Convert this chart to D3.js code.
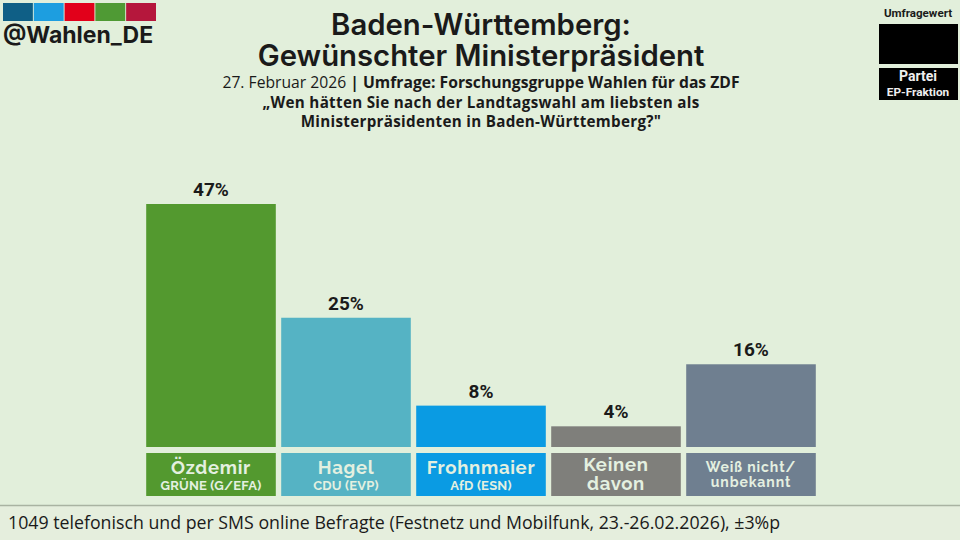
<!DOCTYPE html>
<html>
<head>
<meta charset="utf-8">
<script src="https://d3js.org/d3.v7.min.js"></script>
<style>
  html, body { margin: 0; padding: 0; background: #e2efdb; }
  svg { display: block; }
  text { font-family: "Open Sans", sans-serif; fill: #1a1a1a; }
</style>
</head>
<body>
<svg id="chart" width="960" height="540"></svg>
<script>
var names = ["Özdemir", "Hagel", "Frohnmaier", "Keinen", "Weiß nicht/"];
var names2 = ["", "", "", "davon", "unbekannt"];
var parties = ["GRÜNE (G/EFA)", "CDU (EVP)", "AfD (ESN)", "", ""];
var values = [47, 25, 8, 4, 16];
var barColors = ["#53992f", "#55b3c4", "#0a9be3", "#7f7f7b", "#6f7f90"];
var logoColors = ["#0f5f86", "#1d9ee0", "#e2001a", "#4f9a34", "#b5173c"];
var titleLines = ["Baden-Württemberg:", "Gewünschter Ministerpräsident"];
var questionLines = ["„Wen hätten Sie nach der Landtagswahl am liebsten als", "Ministerpräsidenten in Baden-Württemberg?\""];

var svg = d3.select("#chart");
var headFont = "Raleway, Lato, sans-serif";

var x = d3.scaleBand().domain(d3.range(values.length)).range([143.5, 818.5]).paddingInner(0.04).paddingOuter(0.02);
var y = d3.scaleLinear().domain([0, 47]).range([447, 204]);

// footer
svg.append("rect").attr("x", 0).attr("y", 505).attr("width", 960).attr("height", 35).attr("fill", "#e5eedd");
svg.append("line").attr("x1", 0).attr("x2", 960).attr("y1", 505.5).attr("y2", 505.5).attr("stroke", "#a9b3a2").attr("stroke-width", 1.5);
svg.append("text").attr("x", 8).attr("y", 529).attr("font-size", 17.75).attr("fill", "#222")
  .text("1049 telefonisch und per SMS online Befragte (Festnetz und Mobilfunk, 23.-26.02.2026), ±3%p");

// logo
var logoX = d3.scaleBand().domain(d3.range(logoColors.length)).range([3, 156]).paddingInner(0.03);
svg.selectAll("rect.logo").data(logoColors).enter().append("rect")
  .attr("class", "logo")
  .attr("x", function(d, i) { return logoX(i); })
  .attr("y", 3).attr("width", logoX.bandwidth()).attr("height", 18)
  .attr("fill", function(d) { return d; });
svg.append("text").attr("x", 3).attr("y", 43).attr("font-size", 23).attr("font-weight", 700)
  .style("font-family", "Inter, sans-serif").attr("fill", "#111").text("@Wahlen_DE");

// titles, one text element so the lines can sit tight
var title = svg.append("text")
  .attr("text-anchor", "middle")
  .attr("font-size", 29.3).attr("font-weight", 600)
  .attr("fill", "#111")
  .style("font-family", "Inter, sans-serif");
title.selectAll("tspan").data(titleLines).enter().append("tspan")
  .attr("x", 481)
  .attr("y", function(d, i) { return 35 + i * 31; })
  .text(function(d) { return d; });

var sub = svg.append("text").attr("x", 481).attr("y", 88).attr("text-anchor", "middle").attr("font-size", 15.7).attr("fill", "#222");
sub.append("tspan").text("27. Februar 2026 ");
sub.append("tspan").attr("font-weight", 700).text("| Umfrage: Forschungsgruppe Wahlen für das ZDF");

svg.selectAll("text.question").data(questionLines).enter().append("text")
  .attr("class", "question")
  .attr("x", 481)
  .attr("y", function(d, i) { return 108 + i * 19; })
  .attr("text-anchor", "middle")
  .attr("font-size", 15.2).attr("font-weight", 700).attr("fill", "#222")
  .attr("letter-spacing", 0.3)
  .text(function(d) { return d; });

// legend box
svg.append("text").attr("x", 918).attr("y", 17).attr("text-anchor", "middle").attr("font-size", 11.6).attr("font-weight", 700)
  .style("font-family", "Roboto, sans-serif").text("Umfragewert");
svg.append("rect").attr("x", 879).attr("y", 24).attr("width", 79).attr("height", 40).attr("fill", "#000");
svg.append("rect").attr("x", 879).attr("y", 68).attr("width", 79).attr("height", 32).attr("fill", "#000");
svg.append("text").attr("x", 918).attr("y", 81).attr("text-anchor", "middle").attr("font-size", 14).attr("font-weight", 700)
  .style("font-family", "Roboto, sans-serif").style("fill", "#eee").text("Partei");
svg.append("text").attr("x", 918).attr("y", 96).attr("text-anchor", "middle").attr("font-size", 11.8).attr("font-weight", 700)
  .style("font-family", "Roboto, sans-serif").style("fill", "#eee").text("EP-Fraktion");

// bars
svg.selectAll("rect.bar").data(values).enter().append("rect")
  .attr("class", "bar")
  .attr("x", function(d, i) { return x(i); })
  .attr("y", function(d) { return y(d); })
  .attr("width", x.bandwidth())
  .attr("height", function(d) { return y(0) - y(d); })
  .attr("fill", function(d, i) { return barColors[i]; });

svg.selectAll("text.pct").data(values).enter().append("text")
  .attr("class", "pct")
  .attr("x", function(d, i) { return x(i) + x.bandwidth() / 2; })
  .attr("y", function(d) { return y(d) - 8; })
  .attr("text-anchor", "middle")
  .attr("font-size", 19).attr("font-weight", 700)
  .style("font-family", "Roboto, sans-serif")
  .attr("fill", "#111")
  .text(function(d) { return d + "%"; });

// name boxes
svg.selectAll("rect.box").data(values).enter().append("rect")
  .attr("class", "box")
  .attr("x", function(d, i) { return x(i); })
  .attr("y", 453).attr("width", x.bandwidth()).attr("height", 43)
  .attr("fill", function(d, i) { return barColors[i]; });

var labelColor = "#e4f0e0";
names.forEach(function(n, i) {
  var cx = x(i) + x.bandwidth() / 2;
  var twoLines = names2[i] != "";
  var small = i == 4;
  var size = small ? 14 : 18.5;
  var spacing = small ? 0.9 : 0.7;
  svg.append("text").attr("x", cx).attr("y", twoLines ? (small ? 472 : 471) : 474)
    .attr("text-anchor", "middle").attr("font-size", size).attr("font-weight", 700)
    .attr("letter-spacing", spacing)
    .style("font-family", headFont).style("fill", labelColor).text(n);
  if (twoLines) {
    svg.append("text").attr("x", cx).attr("y", small ? 487 : 490)
      .attr("text-anchor", "middle").attr("font-size", size).attr("font-weight", 700)
      .attr("letter-spacing", spacing)
      .style("font-family", headFont).style("fill", labelColor).text(names2[i]);
  } else {
    svg.append("text").attr("x", cx).attr("y", 490)
      .attr("text-anchor", "middle").attr("font-size", 13).attr("font-weight", 700)
      .attr("letter-spacing", 0.2)
      .style("font-family", headFont).style("fill", labelColor).text(parties[i]);
  }
});
</script>
</body>
</html>
